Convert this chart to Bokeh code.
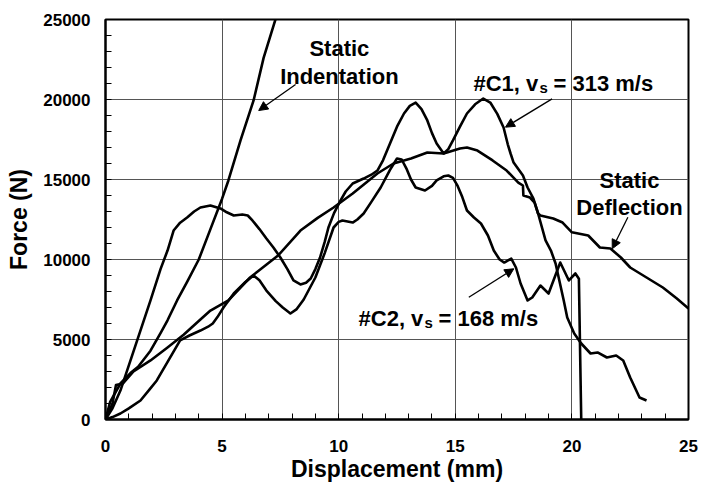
from bokeh.plotting import figure
from bokeh.models import (Range1d, FixedTicker, Label, Arrow, NormalHead)
from bokeh.embed import file_html
from bokeh.resources import INLINE

# ---------------- data ----------------
si_x = [0, 0.2, 0.64, 1.07, 1.4, 1.93, 2.36, 2.66, 3.07, 3.5, 4.0, 4.5, 5.0, 5.27, 5.79, 6.35, 6.78, 7.3]
si_y = [0, 1100, 2250, 2900, 3300, 4300, 5400, 6200, 7440, 8600, 10000, 11900, 13800, 14940, 17440, 19940, 22600, 25060]

sd_x = [0, 0.3, 0.45, 0.75, 1.2, 1.93, 2.66, 3.35, 4.07, 4.5, 5.27, 6.2, 7.4, 8.36, 9.1, 9.78, 10.6, 11.66,
        12.35, 13.1, 13.8, 14.5, 15.2, 15.5, 15.95, 16.6, 17.2, 17.7, 17.9, 17.92, 18.2, 18.4, 18.55,
        18.65, 19.2, 19.6, 20.0, 20.7, 21.2, 21.65, 22.1, 22.5, 23.2, 23.9, 24.5, 25.0]
sd_y = [0, 1000, 2150, 2250, 3000, 3690, 4500, 5300, 6250, 6810, 7440, 8875, 10250, 11810, 12600, 13250, 14125, 15375,
        16000, 16310, 16690, 16625, 16940, 17000, 16810, 16190, 15560, 14810, 14625, 14000, 13875, 13560, 12875,
        12750, 12560, 12310, 11700, 11500, 10750, 10690, 10125, 9500, 8875, 8250, 7560, 6940]

c1_x = [0, 0.3, 0.64, 1.93, 2.36, 2.66, 2.92, 3.2, 3.5, 3.8, 4.07, 4.5, 4.93, 5.2, 5.5, 5.87, 6.1, 6.3, 6.6,
        6.9, 7.2, 7.5, 7.8, 8.06, 8.36, 8.6, 8.8, 9.0, 9.2, 9.4, 9.56, 9.8, 10.08, 10.3, 10.6, 11.07, 11.4,
        11.66, 11.9, 12.2, 12.5, 12.8, 13.05, 13.3, 13.55, 13.8, 14.0, 14.2, 14.5, 14.7, 14.9, 15.2, 15.5,
        15.85, 16.2, 16.5, 16.8, 17.07, 17.25, 17.37, 17.5, 17.9, 18.1, 18.35, 18.55, 18.87, 19.1, 19.3,
        19.65, 19.8, 20.1, 20.4, 20.8, 21.1, 21.5, 21.9, 22.2, 22.5, 22.9, 23.2]
c1_y = [0, 700, 1810, 7440, 9400, 10560, 11810, 12300, 12625, 13000, 13250, 13375, 13190, 12950, 12750, 12810,
        12750, 12440, 11900, 11310, 10750, 10125, 9400, 8690, 8440, 8550, 8810, 9400, 10125, 11100, 12000,
        12900, 13690, 14250, 14750, 15060, 15300, 15560, 16200, 17250, 18300, 19125, 19600, 19800, 19400,
        18690, 17900, 17250, 16625, 16900, 17440, 18300, 19125, 19700, 20060, 19810, 19100, 18250, 17200,
        16625, 16060, 15250, 14500, 13810, 12875, 11190, 10560, 9750, 7440, 6375, 5375, 4750, 4125, 4190,
        3875, 4000, 3690, 2625, 1375, 1190]

c2_x = [0, 0.3, 0.64, 1.0, 1.5, 1.9, 2.2, 2.7, 3.2, 3.6, 4.07, 4.4, 4.6, 4.8, 5.06, 5.5, 6.0, 6.35, 6.6, 6.9,
        7.3, 7.6, 7.93, 8.2, 8.5, 9.0, 9.4, 9.78, 10.0, 10.16, 10.6, 10.8, 11.07, 11.4, 11.8, 12.2, 12.5,
        12.7, 12.9, 13.1, 13.3, 13.7, 14.0, 14.2, 14.5, 14.7, 14.9, 15.1, 15.3, 15.5, 15.8, 16.1, 16.4,
        16.65, 16.9, 17.1, 17.4, 17.6, 17.8, 18.1, 18.3, 18.65, 19.0, 19.5, 19.87, 20.15, 20.3, 20.4]
c2_y = [0, 150, 375, 700, 1190, 1900, 2440, 3700, 4940, 5250, 5560, 5800, 6000, 6400, 7000, 7875, 8600, 9000,
        8700, 8060, 7400, 7000, 6625, 6900, 7500, 8875, 10400, 12000, 12350, 12440, 12310, 12500, 12875,
        13600, 14500, 15600, 16310, 16250, 15700, 15000, 14500, 14310, 14600, 14940, 15200, 15250, 15100,
        14600, 13900, 13060, 12625, 12250, 11500, 10560, 10000, 9810, 10060, 9500, 8500, 7440, 7625, 8375,
        7875, 9810, 8690, 9125, 8800, 0]

x_ticks = [0, 5, 10, 15, 20, 25]
y_ticks = [0, 5000, 10000, 15000, 20000, 25000]
x_minor = list(range(0, 26))
y_minor = list(range(0, 25001, 1000))

FONT = "Liberation Sans"

p = figure(width=701, height=484, x_range=Range1d(0, 25), y_range=Range1d(0, 25000),
           output_backend="svg", toolbar_location=None,
           min_border_left=105, min_border_right=13, min_border_top=19, min_border_bottom=65)
p.background_fill_color = "white"
p.border_fill_color = "white"
p.outline_line_color = "black"
p.outline_line_width = 2

p.xaxis.ticker = FixedTicker(ticks=x_ticks, minor_ticks=x_minor)
p.yaxis.ticker = FixedTicker(ticks=y_ticks, minor_ticks=y_minor)
for ax in (p.xaxis[0], p.yaxis[0]):
    ax.axis_line_color = "black"
    ax.axis_line_width = 2
    ax.major_tick_in = 0
    ax.major_tick_out = 0
    ax.minor_tick_in = 6
    ax.minor_tick_out = 0
    ax.minor_tick_line_color = "black"
    ax.minor_tick_line_width = 1
    ax.major_label_text_font = FONT
    ax.major_label_text_font_style = "bold"
    ax.major_label_text_font_size = "17px"
    ax.major_label_text_color = "black"
    ax.axis_label_text_font = FONT
    ax.axis_label_text_font_style = "bold"
    ax.axis_label_text_font_size = "23px"
    ax.axis_label_text_color = "black"

p.xaxis.axis_label = "Displacement (mm)"
p.yaxis.axis_label = "Force (N)"
p.xaxis.major_label_standoff = 20
p.yaxis.major_label_standoff = 15
p.xaxis.axis_label_standoff = 1
p.yaxis.axis_label_standoff = 8

p.xgrid.ticker = FixedTicker(ticks=x_ticks)
p.ygrid.ticker = FixedTicker(ticks=y_ticks)
p.grid.grid_line_color = "#555555"
p.grid.grid_line_width = 1

LW = 2.6
p.line(si_x, si_y, line_color="black", line_width=LW, line_join="round")
p.line(sd_x, sd_y, line_color="black", line_width=LW, line_join="round")
p.line(c1_x, c1_y, line_color="black", line_width=LW, line_join="round")
p.line(c2_x, c2_y, line_color="black", line_width=LW, line_join="round")

def lab(x, y, t, size="22px", align="center"):
    p.add_layout(Label(x=x, y=y, text=t, text_font=FONT, text_font_style="bold",
                       text_font_size=size, text_align=align, text_baseline="alphabetic",
                       text_color="black"))

# Static Indentation
lab(10.03, 23190, "Static")
lab(10.03, 21440, "Indentation")
# Static Deflection
lab(22.47, 14940, "Static")
lab(22.47, 13250, "Deflection")
# #C1
lab(15.78, 21000, "#C1, v", "22px", "left")
lab(18.61, 20750, "s", "15px", "left")
lab(19.21, 21000, "= 313 m/s", "22px", "left")
# #C2
lab(10.85, 6310, "#C2, v", "22px", "left")
lab(13.68, 6060, "s", "15px", "left")
lab(14.28, 6310, "= 168 m/s", "22px", "left")

def arr(x0, y0, x1, y1):
    p.add_layout(Arrow(x_start=x0, y_start=y0, x_end=x1, y_end=y1, line_width=1.3, line_color="black",
                       end=NormalHead(size=9, fill_color="black", line_color="black", line_width=1)))

arr(8.15, 20940, 6.57, 19310)
arr(19.15, 20040, 17.15, 18270)
arr(22.4, 12640, 21.73, 10670)
arr(15.58, 7640, 17.51, 9420)

open("out.html", "w").write(file_html(p, INLINE))
